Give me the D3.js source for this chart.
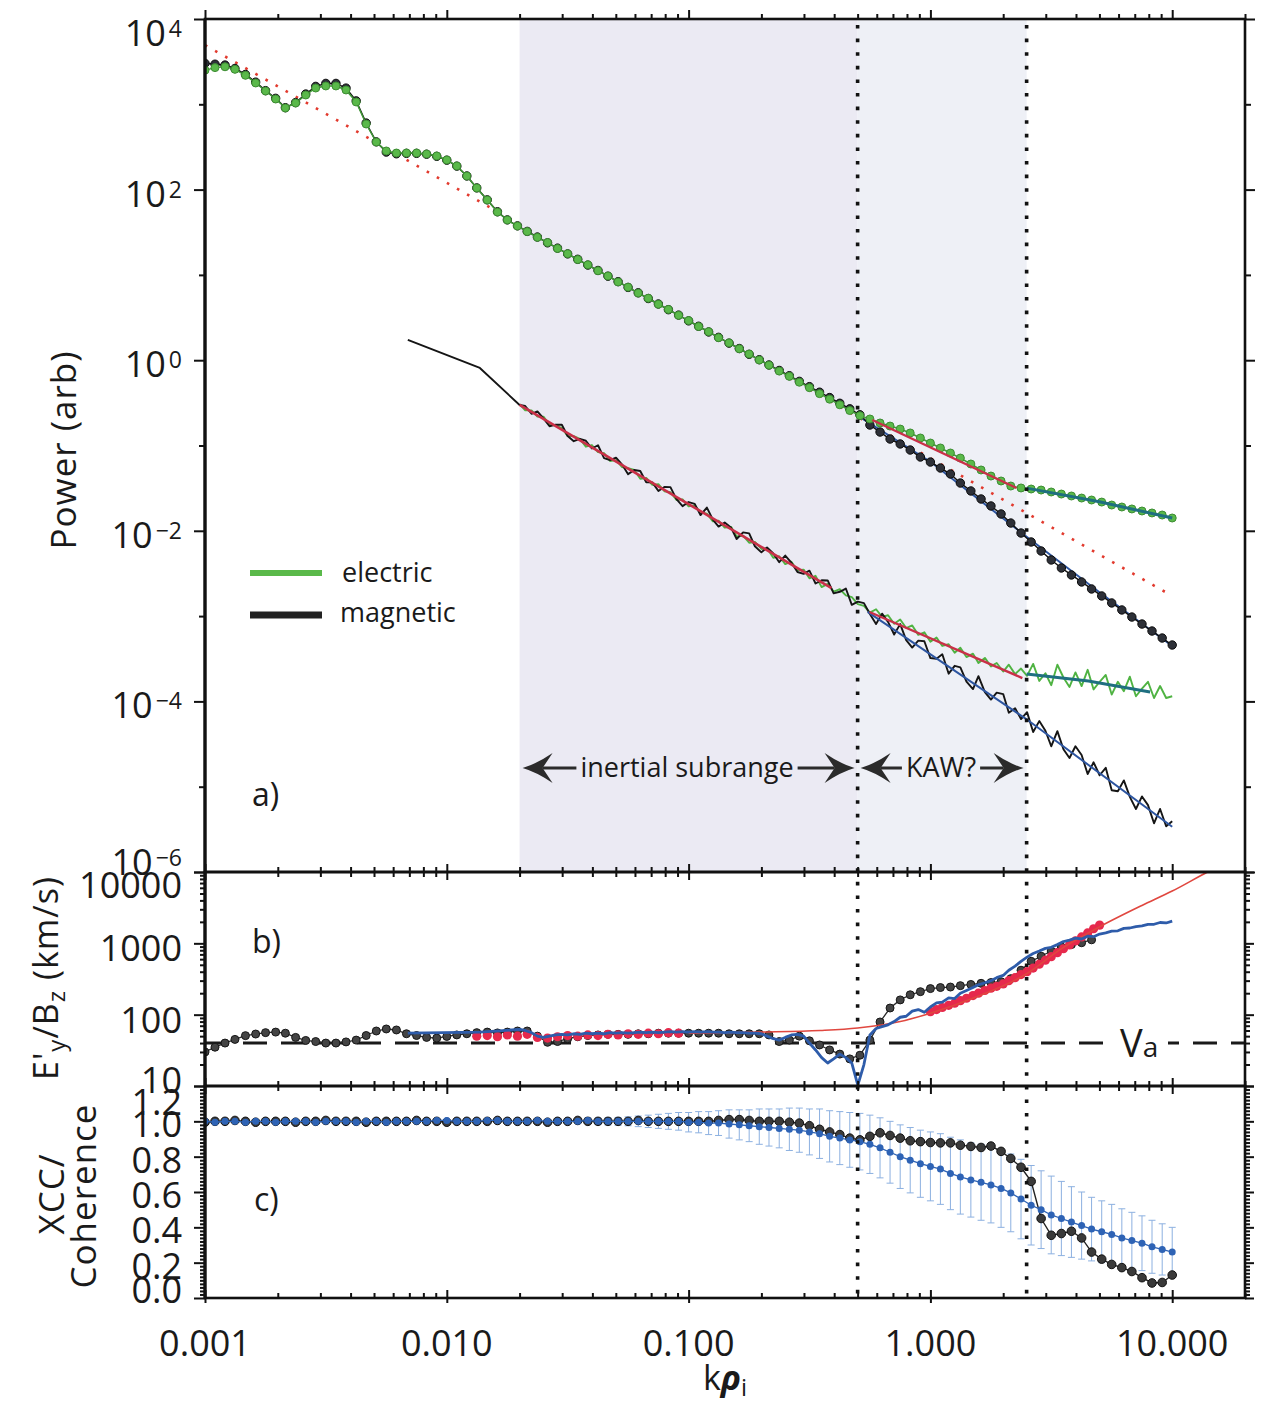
<!DOCTYPE html>
<html><head><meta charset="utf-8">
<script src="https://cdn.jsdelivr.net/npm/d3@7"></script>
<style>
body{margin:0;background:#fff}
svg{display:block}
text{font-family:'Open Sans',sans-serif;fill:#1a1a1a}
</style></head>
<body>
<svg id="chart" width="1268" height="1406"></svg>
<script>
// ---------------- DATA ----------------
// k rho_i grid of the smoothed spectra / ratio / coherence (24 per decade)
const kGrid = [0.001,0.0011,0.00121,0.00133,0.00147,0.00162,0.00178,0.00196,0.00215,0.00237,0.00261,0.00287,0.00316,0.00348,0.00383,0.00422,0.00464,0.00511,0.00562,0.00619,0.00681,0.0075,0.00825,0.00909,
0.01,0.011,0.0121,0.0133,0.0147,0.0162,0.0178,0.0196,0.0215,0.0237,0.0261,0.0287,0.0316,0.0348,0.0383,0.0422,0.0464,0.0511,0.0562,0.0619,0.0681,0.075,0.0825,0.0909,
0.1,0.11,0.121,0.133,0.147,0.162,0.178,0.196,0.215,0.237,0.261,0.287,0.316,0.348,0.383,0.422,0.464,0.511,0.562,0.619,0.681,0.75,0.825,0.909,
1,1.1,1.21,1.33,1.47,1.62,1.78,1.96,2.15,2.37,2.61,2.87,3.16,3.48,3.83,4.22,4.64,5.11,5.62,6.19,6.81,7.5,8.25,9.09,10];

// upper spectra, log10 of power (arb)
const elecUpperExp = [3.40,3.43,3.44,3.41,3.34,3.25,3.156,3.062,2.957,3.015,3.109,3.191,3.215,3.215,3.168,3.027,2.769,2.558,2.453,2.429,2.429,2.429,2.417,2.394,2.347,2.277,2.159,2.019,1.878,1.737,1.644,1.573,
1.508,1.440,1.379,1.310,1.248,1.180,1.118,1.049,0.987,0.918,0.856,0.787,0.726,0.656,0.595,0.526,0.464,0.395,0.334,0.264,0.203,0.134,0.072,0.003,-0.058,-0.128,-0.189,-0.258,-0.322,-0.392,-0.457,-0.523,-0.590,-0.650,
-0.689,-0.736,-0.772,-0.807,-0.853,-0.912,-0.971,-1.029,-1.088,-1.147,-1.217,-1.287,-1.358,-1.416,-1.475,-1.498,-1.510,-1.522,-1.545,-1.569,-1.592,-1.616,-1.639,-1.663,-1.698,-1.721,-1.744,-1.768,-1.791,-1.815,-1.850];
const magUpperExp = [3.48,3.47,3.46,3.42,3.35,3.26,3.16,3.07,2.96,3.02,3.12,3.21,3.245,3.245,3.19,3.04,2.78,2.56,2.44,2.42,2.425,2.425,2.415,2.39,2.345,2.275,2.16,2.02,1.88,1.74,1.645,1.575,
1.510,1.444,1.376,1.314,1.246,1.183,1.115,1.052,0.985,0.921,0.853,0.790,0.723,0.659,0.592,0.529,0.461,0.398,0.331,0.268,0.200,0.137,0.069,0.006,-0.056,-0.120,-0.182,-0.248,-0.310,-0.375,-0.438,-0.505,-0.570,-0.640,
-0.760,-0.842,-0.924,-0.982,-1.053,-1.135,-1.194,-1.264,-1.334,-1.440,-1.533,-1.627,-1.709,-1.803,-1.909,-2.026,-2.131,-2.237,-2.342,-2.436,-2.518,-2.600,-2.682,-2.764,-2.846,-2.928,-3.011,-3.093,-3.175,-3.257,-3.339];

// finer grid of the raw (lower) spectra and of E/B ratio curve
const kLow = [0.0069,0.0137,
0.02,0.0211,0.0224,0.0237,0.0251,0.0266,0.0282,0.0299,0.0316,0.0335,0.0355,0.0376,0.0398,0.0422,0.0447,0.0473,0.0501,0.0531,0.0562,0.0596,0.0631,0.0668,0.0708,0.075,0.0794,0.0841,0.0891,0.0944,
0.1,0.106,0.112,0.119,0.126,0.133,0.141,0.15,0.158,0.168,0.178,0.188,0.2,0.211,0.224,0.237,0.251,0.266,0.282,0.299,0.316,0.335,0.355,0.376,0.398,0.422,0.447,0.473,0.501,0.531,0.562,0.596,0.631,0.668,0.708,0.75,0.794,0.841,0.891,0.944,
1,1.06,1.12,1.19,1.26,1.33,1.41,1.5,1.58,1.68,1.78,1.88,2,2.11,2.24,2.37,2.51,2.66,2.82,2.99,3.16,3.35,3.55,3.76,3.98,4.22,4.47,4.73,5.01,5.31,5.62,5.96,6.31,6.68,7.08,7.5,7.94,8.41,8.91,9.44,10];

const magLowExp = [0.237,-0.091,
-0.525,-0.537,-0.628,-0.600,-0.682,-0.774,-0.755,-0.757,-0.889,-0.950,-0.922,-0.944,-1.035,-0.997,-1.149,-1.171,-1.142,-1.224,-1.336,-1.287,-1.299,-1.431,-1.432,-1.534,-1.486,-1.488,-1.629,-1.711,-1.663,-1.684,-1.816,-1.728,-1.869,-1.951,-1.903,-1.965,-2.096,-2.018,-2.030,-2.181,-2.253,-2.195,-2.266,-2.368,-2.290,-2.372,-2.483,-2.505,-2.467,-2.618,-2.580,-2.582,-2.733,-2.715,-2.677,-2.868,-2.830,
-2.848,-2.975,-3.093,-2.971,-3.068,-3.216,-3.094,-3.282,-3.369,-3.287,-3.295,-3.492,-3.500,-3.448,-3.675,-3.583,-3.601,-3.768,-3.856,-3.704,-3.891,-3.979,-3.897,-3.914,-4.132,-4.080,-4.207,-4.126,
-4.359,-4.231,-4.344,-4.526,-4.349,-4.561,-4.664,-4.526,-4.629,-4.851,-4.714,-4.866,-4.779,-5.041,-5.054,-4.926,-5.119,-5.261,-5.114,-5.216,-5.429,-5.261,-5.464,-5.406];
const elecLowExp = [null,null,
-0.515,-0.587,-0.588,-0.660,-0.662,-0.754,-0.765,-0.797,-0.889,-0.890,-0.922,-1.014,-0.995,-1.077,-1.089,-1.181,-1.172,-1.254,-1.266,-1.287,-1.389,-1.381,-1.462,-1.454,-1.536,-1.548,-1.639,-1.631,-1.713,-1.704,-1.786,-1.798,-1.889,-1.881,-1.963,-1.955,-2.066,-2.058,-2.140,-2.131,-2.213,-2.205,-2.316,-2.298,-2.390,-2.362,-2.463,-2.455,-2.557,-2.528,-2.660,-2.622,-2.713,-2.685,-2.757,-2.778,-2.860,
-2.88,-2.96,-2.92,-3.01,-2.99,-3.09,-3.04,-3.14,-3.11,-3.22,-3.19,-3.30,-3.25,-3.35,-3.33,-3.43,-3.37,-3.48,-3.44,-3.55,-3.49,-3.59,-3.55,-3.65,-3.57,-3.68,-3.615,-3.70,
-3.56,-3.76,-3.67,-3.81,-3.57,-3.72,-3.83,-3.66,-3.82,-3.63,-3.86,-3.77,-3.69,-3.92,-3.77,-3.88,-3.71,-3.94,-3.85,-3.77,-3.96,-3.82,-3.96,-3.94];

// power-law fits (k, log10 power)
const fitDottedK = [0.001, 10],  fitDottedExp = [3.695, -2.764];
const fitInertK  = [0.02, 0.39], fitInertExp  = [-0.525, -2.671];
const fitKawUpK  = [0.575, 2.27], fitKawUpExp = [-0.701, -1.498];
const fitKawLoK  = [0.56, 2.40], fitKawLoExp  = [-2.952, -3.726];
const tealUpK = [2.5, 5, 10],    tealUpExp = [-1.50, -1.66, -1.85];
const tealLoK = [2.5, 4.5, 8.1], tealLoExp = [-3.68, -3.76, -3.89];
const navyLoK = [0.55, 2.5, 10], navyLoExp = [-2.95, -4.21, -5.47];
const navyUpK = [0.5, 1, 2.5, 5, 10], navyUpExp = [-0.65, -1.19, -2.07, -2.72, -3.35];
const shadeBounds = [0.02, 0.5, 2.5];

// panel b : E'y/Bz (km/s)
const alfvenSpeed = 40;
const ratioBlack = [30,35,40,45,50.8,53.5,56,57,55,48,43.5,42,40,40,41.5,44,51,59,63,61,54,51,48,47,49.5,52,54,56,57,55.5,57,59,59,50,41,42,46,49,51,52,53,53,53,54,54,55,55,55,55,55,55,55,54,54,54,54,52,42,44,50,43,37.6,32,28,24,27,44,79,124,161,190,210,232,240,244,255,265,275,282,290,320,420,560,660,780,890,960,1020,1120];
const ratioBlue = [55,57,
62,60,56,50,48,50,52,53,52,54,53,55,54,55,54,56,55,56,55,56,57,56,57,56,57,58,57,58,57,58,57,58,57,57,56,57,56,56,55,55,54,
50,46,44,48,52,53,50,40,32,25,21,24,28,25,21,10.3,
20,52,64,68,72,80,92,95,112,118,108,128,146,150,172,168,200,218,240,262,280,300,330,355,420,480,560,640,
720,780,850,880,960,1060,1110,1180,1150,1260,1240,1350,1400,1480,1500,1620,1640,1720,1760,1840,1850,1960,1930,2050];
const ratioRedInertial = [50,51,49,52,50,53,48,47,49,51,50,52,51,53,52,54,53,55,54,56,55];
const ratioRedKaw = [110,118,126,135,145,157,170,185,200,218,235,250,270,300,330,365,400,450,510,580,650,740,840,950,1080,1230,1400,1600,1800];
const ratioFitK = [0.1,0.2,0.35,0.5,0.75,1,1.5,2.5,3.5,5,7.5,10,14,20];
const ratioFitV = [55,57,60,65,80,105,170,375,850,1700,3400,5400,10000,18000];

// panel c : XCC / coherence
const xccBlack = [0.995,1.0,1.0,1.005,1.0,0.995,1.0,1.0,1.0,0.995,1.0,1.0,1.005,1.0,1.0,1.0,0.995,1.0,1.0,1.0,1.0,1.005,1.0,1.0,0.995,1.0,1.0,1.0,1.0,1.005,1.0,1.0,1.0,1.0,0.995,1.0,1.0,1.005,1.0,1.0,1.0,1.0,1.0,1.005,1.0,1.0,1.0,1.0,1.0,1.0,
1.0,1.005,1.01,1.01,1.005,1.0,1.0,1.0,0.995,0.99,0.975,0.955,0.94,0.925,0.905,0.895,0.915,0.935,0.92,0.905,0.89,0.885,0.88,0.878,0.878,0.865,0.858,0.852,0.86,0.83,0.79,0.74,0.66,0.45,0.355,0.365,0.378,0.34,0.26,0.22,0.19,0.172,0.15,0.115,0.085,0.088,0.13];
const cohBlue = [1.0,0.995,1.0,1.0,0.995,1.0,1.0,0.995,1.0,1.0,1.0,0.995,1.0,1.0,1.0,0.995,1.0,1.0,0.995,1.0,1.0,1.0,1.0,1.005,1.005,1.0,1.0,1.0,1.005,1.005,1.0,1.0,1.0,1.005,1.0,1.0,1.0,1.0,1.005,1.0,1.0,1.0,1.0,1.0,1.0,1.0,1.0,1.0,0.995,
0.995,0.99,0.99,0.985,0.98,0.975,0.97,0.965,0.96,0.955,0.95,0.94,0.93,0.915,0.905,0.895,0.885,0.87,0.85,0.825,0.80,0.78,0.76,0.745,0.73,0.705,0.685,0.668,0.655,0.64,0.62,0.595,0.56,0.525,0.50,0.47,0.45,0.43,0.41,0.39,0.375,0.36,0.34,0.325,0.31,0.29,0.275,0.26];
const cohErr = [0.005,0.005,0.005,0.005,0.005,0.005,0.005,0.005,0.005,0.005,0.005,0.005,0.005,0.005,0.005,0.005,0.005,0.005,0.005,0.005,0.005,0.005,0.005,0.005,0.005,0.005,0.005,0.005,0.005,0.005,0.005,0.005,0.005,0.005,0.005,0.005,
0.01,0.012,0.015,0.018,0.02,0.022,0.025,0.03,0.035,0.04,0.045,0.05,0.055,0.06,0.065,0.07,0.08,0.085,0.09,0.10,0.105,0.11,0.12,0.125,0.13,0.14,0.145,0.15,0.155,0.16,0.165,0.17,0.175,0.18,0.185,0.19,0.195,0.20,0.205,0.21,0.21,0.215,0.215,0.22,0.22,0.225,0.225,0.22,0.22,0.21,0.20,0.19,0.18,0.175,0.17,0.165,0.16,0.155,0.15,0.145,0.14];

// tick labels
const kTickVals = [0.001,0.01,0.1,1,10];
const kTickLabels = ['0.001','0.010','0.100','1.000','10.000'];
const powerTickExps = [4,2,0,-2,-4,-6];
const ratioTickVals = [10,100,1000,10000];
const ratioTickLabels = ['10','100','1000','10000'];
const cohTickVals = [0,0.2,0.4,0.6,0.8,1.0,1.2];
const cohTickLabels = ['0.0','0.2','0.4','0.6','0.8','1.0','1.2'];

// ---------------- LAYOUT ----------------
const L=205, R=1245, aTop=19, aBot=872, bBot=1086, cBot=1298;
const x  = d3.scaleLog().domain([0.001,20]).range([L,R]);
const yA = d3.scaleLog().domain([1e-6,1e4]).range([aBot,aTop]);
const yB = d3.scaleLog().domain([10,10000]).range([bBot,aBot]);
const yC = d3.scaleLinear().domain([0,1.2]).range([cBot,bBot]);

const svg = d3.select('#chart');
const defs = svg.append('defs');
function mkClip(id,y0,y1){defs.append('clipPath').attr('id',id).append('rect').attr('x',L).attr('y',y0).attr('width',R-L).attr('height',y1-y0);}
mkClip('ca',aTop,aBot); mkClip('cb',aBot,bBot); mkClip('cc',bBot,cBot);

const pw = (ks, ex) => ks.map((k,i)=>[k, ex[i]==null?null:Math.pow(10,ex[i])]);
const zipKV = (ks, vs) => ks.map((k,i)=>[k, vs[i]]);
const lineA = d3.line().defined(d=>d[1]!=null).x(d=>x(d[0])).y(d=>yA(d[1]));
const lineB = d3.line().x(d=>x(d[0])).y(d=>yB(d[1]));
const lineBs = d3.line().x(d=>x(d[0])).y(d=>yB(d[1])).curve(d3.curveMonotoneX);
const lineC = d3.line().x(d=>x(d[0])).y(d=>yC(d[1]));

// ---------- panel a ----------
const pa = svg.append('g').attr('clip-path','url(#ca)');
pa.append('rect').attr('x',x(shadeBounds[0])).attr('y',aTop).attr('width',x(shadeBounds[1])-x(shadeBounds[0])).attr('height',aBot-aTop).attr('fill','#ebeaf3');
pa.append('rect').attr('x',x(shadeBounds[1])).attr('y',aTop).attr('width',x(shadeBounds[2])-x(shadeBounds[1])).attr('height',aBot-aTop).attr('fill','#eef0f6');

// red dotted overall fit
pa.append('path').datum(pw(fitDottedK,fitDottedExp)).attr('d',lineA).attr('fill','none')
  .attr('stroke','#e23a2e').attr('stroke-width',2.6).attr('stroke-dasharray','2.6 9');

// lower raw spectra
pa.append('path').datum(pw(kLow,elecLowExp)).attr('d',lineA).attr('fill','none').attr('stroke','#4fb342').attr('stroke-width',1.9).attr('stroke-linejoin','round');
pa.append('path').datum(pw(kLow,magLowExp)).attr('d',lineA).attr('fill','none').attr('stroke','#151515').attr('stroke-width',1.9).attr('stroke-linejoin','round');
pa.append('path').datum(pw(navyLoK,navyLoExp)).attr('d',lineA).attr('fill','none').attr('stroke','#2d55a0').attr('stroke-width',2);
pa.append('path').datum(pw(tealLoK,tealLoExp)).attr('d',lineA).attr('fill','none').attr('stroke','#1f6f80').attr('stroke-width',3);
pa.append('path').datum(pw(fitInertK,fitInertExp)).attr('d',lineA).attr('fill','none').attr('stroke','#c93048').attr('stroke-width',2.6);
pa.append('path').datum(pw(fitKawLoK,fitKawLoExp)).attr('d',lineA).attr('fill','none').attr('stroke','#c93048').attr('stroke-width',2.4);

// upper spectra
pa.append('path').datum(pw(navyUpK,navyUpExp)).attr('d',lineA).attr('fill','none').attr('stroke','#2d55a0').attr('stroke-width',2);
const magUp = pw(kGrid,magUpperExp), elecUp = pw(kGrid,elecUpperExp);
pa.append('path').datum(magUp).attr('d',lineA).attr('fill','none').attr('stroke','#111').attr('stroke-width',1.5);
pa.append('g').selectAll('circle').data(magUp).join('circle')
  .attr('cx',d=>x(d[0])).attr('cy',d=>yA(d[1])).attr('r',4.2).attr('fill','#2d3038').attr('stroke','#0c0c0c').attr('stroke-width',1);
pa.append('path').datum(elecUp).attr('d',lineA).attr('fill','none').attr('stroke','#3f9a35').attr('stroke-width',1.5);
pa.append('g').selectAll('circle').data(elecUp).join('circle')
  .attr('cx',d=>x(d[0])).attr('cy',d=>yA(d[1])).attr('r',4).attr('fill','#5ab94a').attr('stroke','#3d8c33').attr('stroke-width',1);
pa.append('path').datum(pw(tealUpK,tealUpExp)).attr('d',lineA).attr('fill','none').attr('stroke','#1f6f80').attr('stroke-width',3);
pa.append('path').datum(pw(fitKawUpK,fitKawUpExp)).attr('d',lineA).attr('fill','none').attr('stroke','#c93048').attr('stroke-width',2.4);

// legend
const leg = svg.append('g');
leg.append('line').attr('x1',250).attr('x2',322).attr('y1',573).attr('y2',573).attr('stroke','#5ab94a').attr('stroke-width',6);
leg.append('line').attr('x1',250).attr('x2',322).attr('y1',615).attr('y2',615).attr('stroke','#222').attr('stroke-width',7);
leg.append('text').attr('x',342).attr('y',582).attr('font-size',27).text('electric');
leg.append('text').attr('x',340).attr('y',622).attr('font-size',27).text('magnetic');

// annotations with arrows
const ann = svg.append('g');
function arrowHead(tipX, y, dir){
  const Lh=30, Hh=15, n=20;
  ann.append('path').attr('d',
    `M${tipX},${y} Q${tipX-dir*14},${y-4} ${tipX-dir*Lh},${y-Hh} L${tipX-dir*n},${y} L${tipX-dir*Lh},${y+Hh} Q${tipX-dir*14},${y+4} ${tipX},${y} Z`)
    .attr('fill','#2b2b2b');
}
function rangeLabel(label, k0, k1, cx){
  const y=768;
  const t = ann.append('text').attr('x',cx).attr('y',y+9).attr('text-anchor','middle').attr('font-size',27).text(label);
  const w = t.node().getComputedTextLength();
  const x0 = x(k0)+3, x1 = x(k1)-3;
  arrowHead(x0, y, -1); arrowHead(x1, y, 1);
  ann.append('line').attr('x1',x0+20).attr('x2',cx-w/2-4).attr('y1',y).attr('y2',y).attr('stroke','#2b2b2b').attr('stroke-width',3);
  ann.append('line').attr('x1',cx+w/2+4).attr('x2',x1-20).attr('y1',y).attr('y2',y).attr('stroke','#2b2b2b').attr('stroke-width',3);
}
rangeLabel('inertial subrange', shadeBounds[0], shadeBounds[1], 687);
rangeLabel('KAW?', shadeBounds[1], shadeBounds[2], 941);

svg.append('text').attr('x',252).attr('y',806).attr('font-size',32).text('a)');

// ---------- panel b ----------
const pb = svg.append('g').attr('clip-path','url(#cb)');
pb.append('line').attr('x1',L).attr('x2',R).attr('y1',yB(alfvenSpeed)).attr('y2',yB(alfvenSpeed))
  .attr('stroke','#1a1a1a').attr('stroke-width',3).attr('stroke-dasharray','24 14');
const bBlack = zipKV(kGrid.slice(0,ratioBlack.length), ratioBlack);
pb.append('path').datum(bBlack).attr('d',lineB).attr('fill','none').attr('stroke','#2a2a2a').attr('stroke-width',1.3);
pb.append('g').selectAll('circle').data(bBlack).join('circle')
  .attr('cx',d=>x(d[0])).attr('cy',d=>yB(d[1])).attr('r',4).attr('fill','#444').attr('stroke','#161616').attr('stroke-width',1);
const redIn = zipKV(kGrid.slice(27,27+ratioRedInertial.length), ratioRedInertial);
const redKaw = zipKV(kLow.slice(70,70+ratioRedKaw.length), ratioRedKaw);
pb.append('g').selectAll('circle').data(redIn.concat(redKaw)).join('circle')
  .attr('cx',d=>x(d[0])).attr('cy',d=>yB(d[1])).attr('r',4.6).attr('fill','#e6294c');
pb.append('path').datum(zipKV(ratioFitK,ratioFitV)).attr('d',lineBs).attr('fill','none').attr('stroke','#e0473f').attr('stroke-width',1.6);
pb.append('path').datum(zipKV(kLow,ratioBlue)).attr('d',lineB).attr('fill','none').attr('stroke','#2e5caa').attr('stroke-width',2.8).attr('stroke-linejoin','round');
// Va label
svg.append('rect').attr('x',1112).attr('y',yB(alfvenSpeed)-14).attr('width',56).attr('height',28).attr('fill','#fff');
const va = svg.append('text').attr('x',1120).attr('y',1057).attr('font-size',38);
va.append('tspan').text('V'); va.append('tspan').attr('font-size',28).text('a');
svg.append('text').attr('x',252).attr('y',953).attr('font-size',32).text('b)');

// ---------- panel c ----------
const pc = svg.append('g').attr('clip-path','url(#cc)');
const errPts = kGrid.map((k,i)=>({k, v:cohBlue[i], e:cohErr[i]}));
const eb = pc.append('g').attr('stroke','#8cb0e0').attr('stroke-width',1);
errPts.forEach(d=>{
  const xx=x(d.k), y0=yC(d.v-d.e), y1=yC(d.v+d.e);
  eb.append('line').attr('x1',xx).attr('x2',xx).attr('y1',y0).attr('y2',y1);
  eb.append('line').attr('x1',xx-3.5).attr('x2',xx+3.5).attr('y1',y0).attr('y2',y0);
  eb.append('line').attr('x1',xx-3.5).attr('x2',xx+3.5).attr('y1',y1).attr('y2',y1);
});
const cBlack = zipKV(kGrid, xccBlack), cBlue = zipKV(kGrid, cohBlue);
pc.append('path').datum(cBlack).attr('d',lineC).attr('fill','none').attr('stroke','#222').attr('stroke-width',1.4);
pc.append('g').selectAll('circle').data(cBlack).join('circle')
  .attr('cx',d=>x(d[0])).attr('cy',d=>yC(d[1])).attr('r',4.3).attr('fill','#3a3a3a').attr('stroke','#111').attr('stroke-width',1);
pc.append('path').datum(cBlue).attr('d',lineC).attr('fill','none').attr('stroke','#2e63b5').attr('stroke-width',1.3);
pc.append('g').selectAll('circle').data(cBlue).join('circle')
  .attr('cx',d=>x(d[0])).attr('cy',d=>yC(d[1])).attr('r',3.5).attr('fill','#2e63b5');
svg.append('text').attr('x',254).attr('y',1211).attr('font-size',32).text('c)');

// ---------- vertical dotted markers ----------
shadeBounds.slice(1).forEach(k=>{
  svg.append('line').attr('x1',x(k)).attr('x2',x(k)).attr('y1',aTop+6).attr('y2',cBot)
    .attr('stroke','#111').attr('stroke-width',3.6).attr('stroke-dasharray','3.6 10');
});

// ---------- frames & axes ----------
const ax = svg.append('g');
[[aTop,aBot],[aBot,bBot],[bBot,cBot]].forEach(([y0,y1])=>{
  ax.append('rect').attr('x',L).attr('y',y0).attr('width',R-L).attr('height',y1-y0).attr('fill','none').attr('stroke','#111').attr('stroke-width',2.6);
});
ax.append('line').attr('x1',L).attr('x2',L).attr('y1',aTop).attr('y2',cBot).attr('stroke','#111').attr('stroke-width',3.2);

const isDec = v => Math.abs(Math.log10(v)-Math.round(Math.log10(v)))<1e-6;
const xAll = x.ticks(), xMaj = xAll.filter(isDec), xMin = xAll.filter(v=>!isDec(v));
function addAxis(axisFn, transform, vals, size){
  const g = ax.append('g').attr('transform',transform).call(axisFn.tickValues(vals).tickSize(size).tickFormat(''));
  g.select('.domain').remove();
  g.selectAll('line').attr('stroke','#111').attr('stroke-width',2);
}
addAxis(d3.axisTop(x), `translate(0,${aTop})`, xMaj, 9);
addAxis(d3.axisTop(x), `translate(0,${aTop})`, xMin, 5);
[aBot,bBot].forEach(yy=>{
  addAxis(d3.axisTop(x), `translate(0,${yy})`, xMaj, 8);
  addAxis(d3.axisTop(x), `translate(0,${yy})`, xMin, 5);
  addAxis(d3.axisBottom(x), `translate(0,${yy})`, xMaj, 8);
  addAxis(d3.axisBottom(x), `translate(0,${yy})`, xMin, 5);
});
addAxis(d3.axisTop(x), `translate(0,${cBot})`, xMaj, 8);
addAxis(d3.axisTop(x), `translate(0,${cBot})`, xMin, 5);
addAxis(d3.axisBottom(x), `translate(0,${cBot})`, xMaj, 5);

const aDec = yA.ticks().filter(isDec);
const aEven = aDec.filter(v=>Math.round(Math.log10(v))%2===0), aOdd = aDec.filter(v=>Math.round(Math.log10(v))%2!==0);
addAxis(d3.axisLeft(yA), `translate(${L},0)`, aEven, 11);
addAxis(d3.axisLeft(yA), `translate(${L},0)`, aOdd, 6);
addAxis(d3.axisRight(yA), `translate(${R},0)`, aEven, 10);
addAxis(d3.axisRight(yA), `translate(${R},0)`, aOdd, 6);
const bAll = yB.ticks(), bMaj = bAll.filter(isDec), bMin = bAll.filter(v=>!isDec(v));
addAxis(d3.axisLeft(yB), `translate(${L},0)`, bMaj, 11);
addAxis(d3.axisLeft(yB), `translate(${L},0)`, bMin, 5);
addAxis(d3.axisRight(yB), `translate(${R},0)`, bMaj, 9);
addAxis(d3.axisRight(yB), `translate(${R},0)`, bMin, 5);
const cMaj = yC.ticks(6), cMin = yC.ticks(48).filter(v=>Math.abs(v*5-Math.round(v*5))>1e-6);
addAxis(d3.axisLeft(yC), `translate(${L},0)`, cMaj, 11);
addAxis(d3.axisLeft(yC), `translate(${L},0)`, cMin, 5);
addAxis(d3.axisRight(yC), `translate(${R},0)`, cMaj, 9);
addAxis(d3.axisRight(yC), `translate(${R},0)`, cMin, 5);

// ---------- tick labels ----------
const FS=36, LX=182;
const clamp=(v,a,b)=>Math.max(a,Math.min(b,v));
powerTickExps.forEach(e=>{
  const cy = clamp(yA(Math.pow(10,e))+4, aTop+14, aBot-10);
  const t = ax.append('text').attr('x',LX).attr('y',cy+0.36*FS).attr('text-anchor','end').attr('font-size',FS);
  t.append('tspan').text('10');
  t.append('tspan').attr('font-size',23).attr('dx',3).attr('dy',-9).text(e<0?'\u2212'+(-e):String(e));
});
ratioTickVals.forEach((v,i)=>{
  const cy = clamp(yB(v)+5, aBot+13, bBot-6);
  ax.append('text').attr('x',LX).attr('y',cy+0.36*FS).attr('text-anchor','end').attr('font-size',FS).text(ratioTickLabels[i]);
});
cohTickVals.forEach((v,i)=>{
  const cy = clamp(yC(v)+3, bBot+16, cBot-8);
  ax.append('text').attr('x',LX).attr('y',cy+0.36*FS).attr('text-anchor','end').attr('font-size',FS).text(cohTickLabels[i]);
});
kTickVals.forEach((v,i)=>{
  ax.append('text').attr('x',x(v)).attr('y',1356).attr('text-anchor','middle').attr('font-size',FS).text(kTickLabels[i]);
});

// ---------- axis titles ----------
svg.append('text').attr('transform','translate(76,450) rotate(-90)').attr('text-anchor','middle')
  .attr('font-size',35).attr('letter-spacing',1).text('Power (arb)');
const tb = svg.append('text').attr('transform','translate(58,978) rotate(-90)').attr('text-anchor','middle').attr('font-size',34).attr('letter-spacing',1);
tb.append('tspan').text("E'");
tb.append('tspan').attr('font-size',24).attr('dy',7).text('y');
tb.append('tspan').attr('dy',-7).text('/B');
tb.append('tspan').attr('font-size',24).attr('dy',7).text('z');
tb.append('tspan').attr('dy',-7).text('  (km/s)');
svg.append('text').attr('transform','translate(64,1194) rotate(-90)').attr('text-anchor','middle').attr('font-size',35).attr('letter-spacing',1).text('XCC/');
svg.append('text').attr('transform','translate(96,1196) rotate(-90)').attr('text-anchor','middle').attr('font-size',35).attr('letter-spacing',1).text('Coherence');
const kt = svg.append('text').attr('x',725).attr('y',1390).attr('text-anchor','middle').attr('font-size',34);
kt.append('tspan').text('k');
kt.append('tspan').attr('font-style','italic').attr('font-weight','bold').text('\u03c1');
kt.append('tspan').attr('font-size',24).attr('dy',6).text('i');
</script>
</body></html>
